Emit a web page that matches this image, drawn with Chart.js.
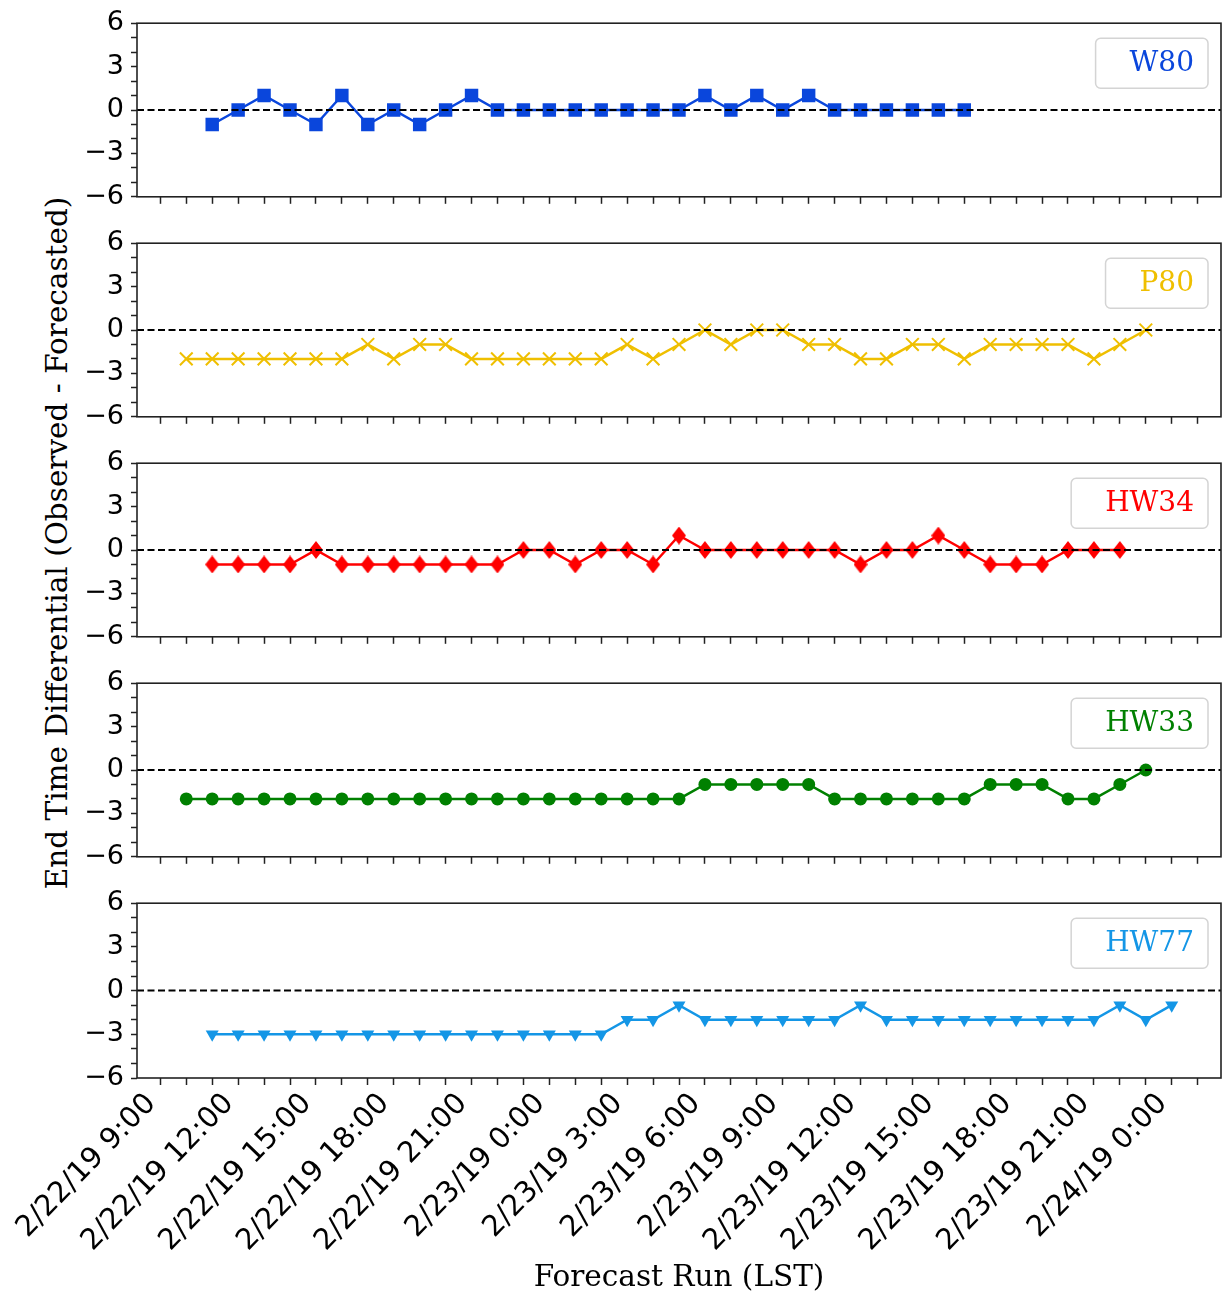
<!DOCTYPE html>
<html>
<head>
<meta charset="utf-8">
<script src="https://cdn.jsdelivr.net/npm/chart.js@4.4.1/dist/chart.umd.min.js"></script>
<style>
html,body{margin:0;padding:0;background:#fff;}
#wrap{position:relative;width:1223px;height:1298px;overflow:hidden;background:#fff;}
#wrap canvas{position:absolute;left:0;}
#ytitle{position:absolute;left:57px;top:543px;font-family:"DejaVu Serif";font-size:29.5px;color:#000;white-space:nowrap;transform:translate(-50%,-50%) rotate(-90deg);}
</style>
</head>
<body>
<div id="wrap"><div id="ytitle">End Time Differential (Observed - Forecasted)</div></div>
<script>
// ---- data ----
// forecast run times, in hours after 2/22/19 0:00 (10 = 2/22/19 10:00 ... 48 = 2/24/19 0:00)
const runHours = [10,11,12,13,14,15,16,17,18,19,20,21,22,23,24,25,26,27,28,29,30,31,32,33,34,35,36,37,38,39,40,41,42,43,44,45,46,47,48];
// hourly tick marks and the 3-hourly labelled ticks
const tickHours = [9,10,11,12,13,14,15,16,17,18,19,20,21,22,23,24,25,26,27,28,29,30,31,32,33,34,35,36,37,38,39,40,41,42,43,44,45,46,47,48,49];
const labelHours = [9,12,15,18,21,24,27,30,33,36,39,42,45,48];
const tickLabels = ['2/22/19 9:00','2/22/19 12:00','2/22/19 15:00','2/22/19 18:00','2/22/19 21:00','2/23/19 0:00','2/23/19 3:00','2/23/19 6:00','2/23/19 9:00','2/23/19 12:00','2/23/19 15:00','2/23/19 18:00','2/23/19 21:00','2/24/19 0:00'];
const yTickValues = [-6,-5,-4,-3,-2,-1,0,1,2,3,4,5,6];
const yLabelValues = [-6,-3,0,3,6];
const yTickLabels = ['\u22126','\u22123','0','3','6'];

const seriesNames = ['W80','P80','HW34','HW33','HW77'];
const w80  = [null,-1,0,1,0,-1,1,-1,0,-1,0,1,0,0,0,0,0,0,0,0,1,0,1,0,1,0,0,0,0,0,0,null,null,null,null,null,null,null,null];
const p80  = [-2,-2,-2,-2,-2,-2,-2,-1,-2,-1,-1,-2,-2,-2,-2,-2,-2,-1,-2,-1,0,-1,0,0,-1,-1,-2,-2,-1,-1,-2,-1,-1,-1,-1,-2,-1,0,null];
const hw34 = [null,-1,-1,-1,-1,0,-1,-1,-1,-1,-1,-1,-1,0,0,-1,0,0,-1,1,0,0,0,0,0,0,-1,0,0,1,0,-1,-1,-1,0,0,0,null,null];
const hw33 = [-2,-2,-2,-2,-2,-2,-2,-2,-2,-2,-2,-2,-2,-2,-2,-2,-2,-2,-2,-2,-1,-1,-1,-1,-1,-2,-2,-2,-2,-2,-2,-1,-1,-1,-2,-2,-1,0,null];
const hw77 = [null,-3,-3,-3,-3,-3,-3,-3,-3,-3,-3,-3,-3,-3,-3,-3,-3,-2,-2,-1,-2,-2,-2,-2,-2,-2,-1,-2,-2,-2,-2,-2,-2,-2,-2,-2,-1,-2,-1];
const seriesValues = [w80, p80, hw34, hw33, hw77];

const xAxisTitle = 'Forecast Run (LST)';
// x range: data span with 5% margins
const xMin = 8.1, xMax = 49.9;

// ---- styles ----
function thinDiamond(color){
  const c = document.createElement('canvas');
  c.width = 14; c.height = 18;
  const g = c.getContext('2d');
  g.fillStyle = color;
  g.beginPath(); g.moveTo(7,0); g.lineTo(14,9); g.lineTo(7,18); g.lineTo(0,9); g.closePath(); g.fill();
  return c;
}
const seriesStyles = [
  {color:'#0a46dc', pointStyle:'rect', radius:9.5, rotation:0, pbw:0},
  {color:'#efbf00', pointStyle:'crossRot', radius:9, rotation:0, pbw:2},
  {color:'#ff0000', pointStyle:thinDiamond('#ff0000'), radius:9, rotation:0, pbw:0},
  {color:'#008000', pointStyle:'circle', radius:6.5, rotation:0, pbw:0},
  {color:'#1496e6', pointStyle:'triangle', radius:7.5, rotation:180, pbw:0}
];

Chart.defaults.font.family = '"DejaVu Sans"';
Chart.defaults.color = '#000';

const panelPlugin = {
  id:'panelLegend',
  afterDatasetsDraw(chart){
    const {ctx, chartArea:a, scales} = chart;
    const y0 = scales.y.getPixelForValue(0);
    ctx.save();
    ctx.beginPath();
    ctx.setLineDash([7,3.5]);
    ctx.lineWidth = 2;
    ctx.strokeStyle = '#000';
    ctx.moveTo(a.left, y0); ctx.lineTo(a.right, y0);
    ctx.stroke();
    ctx.restore();
  },
  afterDraw(chart, args, opts){
    const {ctx, chartArea:a} = chart;
    ctx.save();
    // frame
    ctx.strokeStyle = '#222';
    ctx.lineWidth = 1.6;
    ctx.strokeRect(a.left, a.top, a.right - a.left, a.bottom - a.top);
    // legend box
    ctx.font = '28px "DejaVu Serif"';
    const w = ctx.measureText(opts.text).width;
    const right = a.right - 13, top = a.top + 15, h = 50;
    const left = right - w - 48;
    ctx.beginPath();
    ctx.roundRect(left, top, right - left, h, 5);
    ctx.fillStyle = 'rgba(255,255,255,0.8)';
    ctx.fill();
    ctx.strokeStyle = '#d4d4d4';
    ctx.lineWidth = 1.5;
    ctx.stroke();
    ctx.fillStyle = opts.color;
    ctx.textAlign = 'right';
    ctx.textBaseline = 'middle';
    ctx.fillText(opts.text, right - 14, top + h / 2 + 1);
    ctx.restore();
  }
};

const wrap = document.getElementById('wrap');
for (let i = 0; i < 5; i++){
  const last = i === 4;
  const cv = document.createElement('canvas');
  const ch = last ? 418 : 220;
  cv.width = 1223; cv.height = ch;
  cv.style.top = (220 * i) + 'px';
  cv.style.width = '1223px'; cv.style.height = ch + 'px';
  wrap.appendChild(cv);
  const st = seriesStyles[i];
  const vals = seriesValues[i];
  new Chart(cv, {
    type:'line',
    data:{datasets:[{
      label: seriesNames[i],
      data: runHours.map((h, k) => ({x:h, y:vals[k]})),
      borderColor: st.color,
      backgroundColor: st.color,
      borderWidth: 2.5,
      pointStyle: st.pointStyle,
      pointRadius: st.radius,
      pointRotation: st.rotation,
      pointBorderWidth: st.pbw,
      pointBackgroundColor: st.color,
      pointBorderColor: st.color,
      spanGaps: false,
      tension: 0
    }]},
    options:{
      responsive:false,
      animation:false,
      events:[],
      layout:{autoPadding:false, padding:{top:21, right:2, left:0, bottom:0}},
      plugins:{
        legend:{display:false},
        tooltip:{enabled:false},
        panelLegend:{text:seriesNames[i], color:st.color}
      },
      scales:{
        x:{
          type:'linear', min:xMin, max:xMax,
          afterBuildTicks(s){ s.ticks = tickHours.map(v => ({value:v})); },
          afterFit(s){ s.height = last ? 220 : 22; s.paddingLeft = 0; s.paddingRight = 0; },
          ticks:{
            autoSkip:false, maxRotation:46, minRotation:46, padding:2, labelOffset:-9,
            font:{size:29, family:'"DejaVu Sans"'}, color:'#000',
            callback(v){ if (!last) return ''; const k = labelHours.indexOf(v); return k >= 0 ? tickLabels[k] : ''; }
          },
          grid:{display:true, drawOnChartArea:false, drawTicks:true, tickLength:7, tickColor:'#222', tickWidth:1.5},
          border:{display:false},
          title:{display:last, text:xAxisTitle, font:{size:29.5, family:'"DejaVu Serif"'}, color:'#000', padding:{top:0, bottom:2}}
        },
        y:{
          min:-6, max:6,
          afterBuildTicks(s){ s.ticks = yTickValues.map(v => ({value:v})); },
          afterFit(s){ s.width = 137; },
          ticks:{
            autoSkip:false, padding:7,
            font:{size:27, family:'"DejaVu Sans"'}, color:'#000',
            callback(v){ const k = yLabelValues.indexOf(v); return k >= 0 ? yTickLabels[k] : ''; }
          },
          grid:{display:true, drawOnChartArea:false, drawTicks:true, tickLength:6, tickColor:'#222', tickWidth:1.5},
          border:{display:false}
        }
      }
    },
    plugins:[panelPlugin]
  });
}
</script>
</body>
</html>
